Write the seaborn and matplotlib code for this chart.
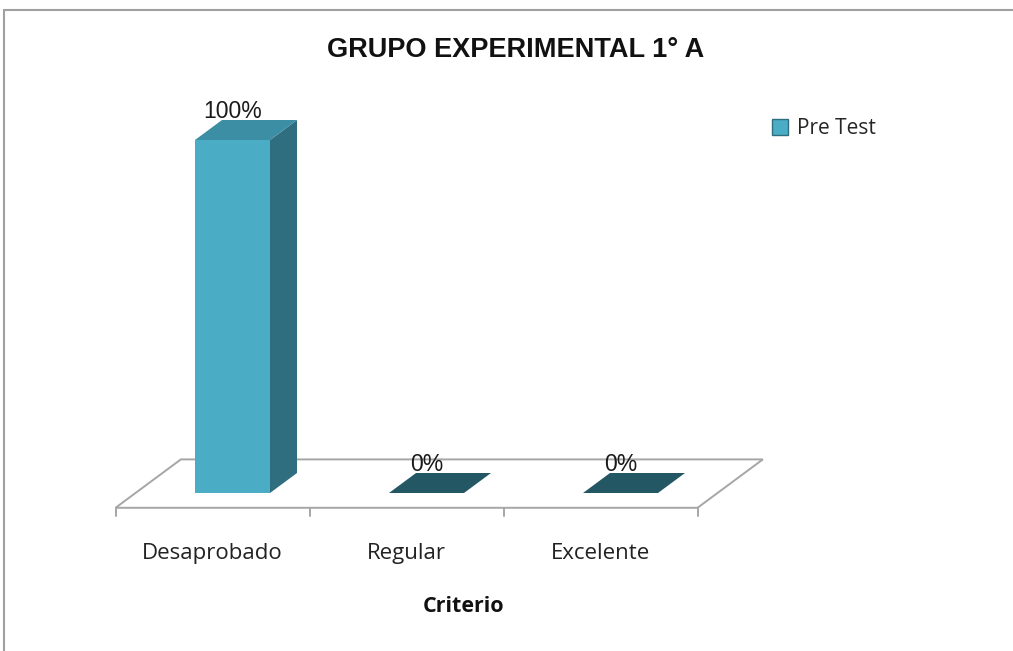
import pandas as pd
import matplotlib
matplotlib.use("Agg")
import matplotlib.pyplot as plt
from matplotlib.patches import Polygon, Patch
from matplotlib.lines import Line2D
from matplotlib.transforms import ScaledTranslation
import seaborn as sns

# ------------------------ Datos ------------------------
criterios = ["Desaprobado", "Regular", "Excelente"]
pre_test = [100, 0, 0]
etiquetas = ["100%", "0%", "0%"]
titulo = "GRUPO EXPERIMENTAL 1° A"
serie = "Pre Test"
eje_x = "Criterio"

df = pd.DataFrame({"Criterio": criterios, "Pre Test": pre_test})

# ------------------------ Estilo ------------------------
sns.set_theme(style="white")
plt.rcParams["font.family"] = ["Liberation Sans", "DejaVu Sans"]
fuente_cal = ["Open Sans", "DejaVu Sans"]

col_front = "#4bacc6"
col_side = "#2e6e7f"
col_top = "#3b8ea4"
col_zero = "#245764"
col_grid = "#a6a6a6"

W, H = 1013, 651
fig = plt.figure(figsize=(W / 100, H / 100), dpi=100)
ax = fig.add_axes([135.5 / W, 158 / H, 582 / W, 353 / H])

bar_w = 75 / 194
sns.barplot(data=df, x="Criterio", y="Pre Test", color=col_front,
            width=bar_w, saturation=1, ax=ax, zorder=3)
ax.set_xlim(-0.5, 2.5)
ax.set_ylim(0, 100)

# conversion pixel -> datos
kx = 3 / 582
ky = 100 / 353
dx, dy = 27 * kx, 20 * ky
f, b = -0.74, 1.68

# suelo 3D
suelo = Polygon([(-0.5 + f * dx, f * dy), (2.5 + f * dx, f * dy),
                 (2.5 + b * dx, b * dy), (-0.5 + b * dx, b * dy)],
                closed=True, facecolor="white", edgecolor=col_grid,
                lw=1.4, clip_on=False, zorder=1)
ax.add_patch(suelo)
for xt in [-0.5, 0.5, 1.5, 2.5]:
    ax.plot([xt + f * dx, xt + f * dx], [f * dy, f * dy - 8 * ky],
            color=col_grid, lw=1.4, clip_on=False, zorder=1)

# caras laterales y superiores
for p in list(ax.patches):
    if not hasattr(p, "get_height") or p is suelo:
        continue
    x0, w, h = p.get_x(), p.get_width(), p.get_height()
    p.set_edgecolor("none")
    if h > 0:
        ax.add_patch(Polygon([(x0 + w, 0), (x0 + w + dx, dy), (x0 + w + dx, h + dy), (x0 + w, h)],
                             facecolor=col_side, edgecolor="none", clip_on=False, zorder=3))
        ax.add_patch(Polygon([(x0, h), (x0 + w, h), (x0 + w + dx, h + dy), (x0 + dx, h + dy)],
                             facecolor=col_top, edgecolor="none", clip_on=False, zorder=3))
    else:
        ax.add_patch(Polygon([(x0, 0), (x0 + w, 0), (x0 + w + dx, dy), (x0 + dx, dy)],
                             facecolor=col_zero, edgecolor="none", clip_on=False, zorder=3))

# etiquetas de datos
ax.bar_label(ax.containers[0], labels=etiquetas, padding=12, fontsize=16.5,
             color="#1a1a1a", zorder=5)

# ejes
sns.despine(ax=ax, left=True, bottom=True)
ax.set_yticks([])
ax.set_ylabel("")
ax.set_xlabel("")
ax.tick_params(axis="x", length=0, pad=36, labelsize=16, colors="#222222")
offset = ScaledTranslation(-20 / 100, 0, fig.dpi_scale_trans)
for lab in ax.get_xticklabels():
    lab.set_family(fuente_cal)
    lab.set_transform(lab.get_transform() + offset)

fig.text(464 / W, 1 - 607 / H, eje_x, ha="center", va="center",
         fontsize=15.5, fontweight="bold", family=fuente_cal, color="#111111")
fig.text(516 / W, 1 - 50 / H, titulo, ha="center", va="center",
         fontsize=19.5, fontweight="bold", color="#111111")

fig.legend(handles=[Patch(facecolor=col_front, edgecolor=col_side)], labels=[serie],
           loc="center left", bbox_to_anchor=(753 / W, 1 - 129 / H), frameon=False,
           handlelength=0.8, handleheight=0.8, handletextpad=0.4,
           prop={"family": fuente_cal, "size": 15})

# borde del grafico
fig.add_artist(Line2D([4 / W, 4 / W], [0, 1 - 10 / H], transform=fig.transFigure,
                      color="#a0a0a0", lw=1.5))
fig.add_artist(Line2D([4 / W, 1], [1 - 10 / H, 1 - 10 / H], transform=fig.transFigure,
                      color="#a0a0a0", lw=1.5))

fig.savefig("out.png", dpi=100, facecolor="white")
